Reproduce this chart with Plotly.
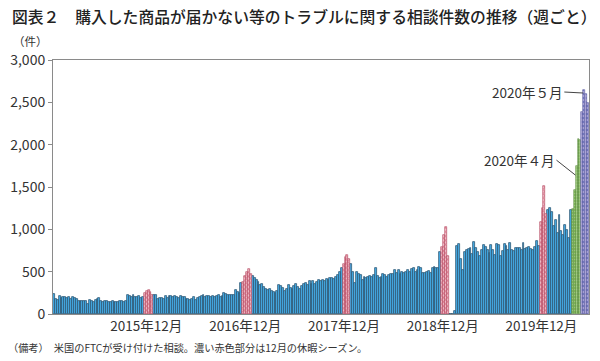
import pandas as pd
import plotly.graph_objects as go

# ---- data (weekly counts) ----
v2015 = [235, 175, 170, 210, 190, 205, 200, 185,
         195, 180, 205, 190, 180, 155, 150, 155,
         150, 150, 120, 160, 155, 140, 165, 175,
         185, 150, 140, 155, 150, 145, 140, 150,
         140, 145, 140, 155, 150, 145, 150, 225,
         210, 200, 220, 205, 195, 215, 190, 200]
dec2015 = [245, 275, 285, 265, 225]
v2016 = [230, 225, 180, 185, 190, 180, 215, 190,
         215, 210, 200, 215, 195, 185, 210, 200,
         195, 180, 175, 170, 180, 200, 170, 190,
         200, 215, 230, 195, 210, 215, 200, 210,
         205, 215, 220, 205, 210, 245, 235, 230,
         220, 230, 225, 285, 260, 250, 365]
dec2016 = [380, 445, 500, 535, 470]
v2017 = [445, 420, 400, 380, 345, 360, 315, 300,
         285, 295, 270, 265, 245, 270, 340, 325,
         310, 270, 300, 340, 310, 290, 330, 350,
         320, 290, 335, 350, 365, 340, 385, 350,
         395, 360, 380, 400, 390, 405, 395, 410,
         400, 420, 425, 410, 440, 460, 500, 540]
dec2017 = [590, 675, 700, 655]
v2018 = [595, 500, 365, 495, 475, 460, 400, 440,
         430, 440, 445, 440, 460, 540, 450, 420,
         440, 470, 455, 440, 460, 470, 475, 520,
         480, 515, 470, 500, 480, 500, 520, 495,
         535, 545, 500, 520, 555, 540, 480, 490,
         500, 510, 490, 545, 560, 540, 545, 735]
dec2018 = [790, 930, 1030, 690]
v2019 = [0, 0, 0, 30, 800, 825, 645, 520,
         735, 755, 765, 775, 710, 850, 775, 735,
         680, 760, 815, 795, 760, 715, 815, 760,
         695, 825, 820, 680, 740, 825, 800, 760,
         840, 760, 740, 775, 785, 775, 760, 840,
         770, 775, 790, 770, 760, 790, 860, 800]
dec2019 = [1090, 1250, 1510, 1180]
v2020 = [1225, 1250, 1200, 1040, 1110, 955, 1175, 975, 935, 1050, 990, 900, 1230]
apr2020 = [1240, 1470, 1750, 2070, 2050]
may2020 = [2380, 2650, 2600, 2490]

values = (v2015 + dec2015 + v2016 + dec2016 + v2017 + dec2017 + v2018 + dec2018
          + v2019 + dec2019 + v2020 + apr2020 + may2020)
dates = pd.date_range("2015-01-01", periods=len(values), freq="7D")

tick_dates = ["2015-12-08", "2016-12-08", "2017-12-08", "2018-12-08", "2019-12-08"]
tick_text = ["2015年12月", "2016年12月", "2017年12月", "2018年12月", "2019年12月"]

df = pd.DataFrame({"date": dates, "value": values})


def category(d):
    if d.year == 2020 and d.month == 4:
        return "apr"
    if d.year == 2020 and d.month == 5:
        return "may"
    if d.month == 12:
        return "dec"
    return "normal"


df["cat"] = df["date"].apply(category)

FONT = "Noto Sans CJK JP"
WEEK_MS = 7 * 24 * 3600 * 1000

styles = {
    "normal": dict(color="#45ace6", line=dict(color="#2c5470", width=0.75)),
    "dec": dict(color="#f2c4ce", line=dict(color="#b03e58", width=0.6),
                pattern=dict(shape="x", fgcolor="#c93a58", bgcolor="#f5cdd6", size=3, solidity=0.55)),
    "apr": dict(color="#8cc266", line=dict(color="#5a8a40", width=0.6),
                pattern=dict(shape="+", fgcolor="#e6f2da", bgcolor="#82bb58", size=3, solidity=0.35)),
    "may": dict(color="#b4aedd", line=dict(color="#55559a", width=0.6),
                pattern=dict(shape=".", fgcolor="#3645a6", bgcolor="#b6b0df", size=4, solidity=0.35)),
}

fig = go.Figure()
for cat in ["normal", "dec", "apr", "may"]:
    sub = df[df["cat"] == cat]
    fig.add_trace(go.Bar(x=sub["date"], y=sub["value"], width=WEEK_MS,
                         marker=styles[cat], showlegend=False, hoverinfo="x+y"))

axis_line = "#8a8a8a"
fig.update_layout(
    width=600, height=361,
    margin=dict(l=52, r=10, t=60, b=47),
    paper_bgcolor="white", plot_bgcolor="white",
    barmode="overlay", bargap=0,
    font=dict(family=FONT, color="#333333", size=14),
    title=dict(text="図表２　購入した商品が届かない等のトラブルに関する相談件数の推移（週ごと）",
               x=12 / 600, xanchor="left", xref="container",
               y=1 - 17 / 361, yanchor="middle", yref="container",
               font=dict(family=FONT, size=15.8, color="#222222", weight=500)),
    xaxis=dict(type="date", range=["2014-12-28 12:00", "2020-06-01"],
               tickvals=tick_dates, ticktext=tick_text, ticks="",
               showline=True, mirror=True, linecolor=axis_line, linewidth=1,
               showgrid=False, zeroline=False, tickfont=dict(size=13.5)),
    yaxis=dict(range=[0, 3000], dtick=500, tickformat=",", ticks="outside", ticklen=4,
               tickcolor=axis_line, showline=True, mirror=True, linecolor=axis_line,
               linewidth=1, showgrid=False, zeroline=False, tickfont=dict(size=14)),
)

fig.add_annotation(text="（件）", xref="paper", yref="paper", x=(29 - 52) / 538, y=(314 - 41) / 254,
                   showarrow=False, font=dict(size=11.5), xanchor="center", yanchor="middle")
fig.add_annotation(text="（備考）　米国のFTCが受け付けた相談。濃い赤色部分は12月の休暇シーズン。",
                   xref="paper", yref="paper", x=(5 - 52) / 538, y=(314 - 347) / 254,
                   showarrow=False, font=dict(size=10.2), xanchor="left", yanchor="middle")
fig.add_annotation(text="2020年５月", x="2020-05-11", y=2610, ax=-19, ay=-1,
                   showarrow=True, arrowhead=0, arrowwidth=1, arrowcolor="#444444",
                   xanchor="right", yanchor="middle", font=dict(size=13.5))
fig.add_annotation(text="2020年４月", x="2020-04-12", y=1640, ax=-19, ay=-15,
                   showarrow=True, arrowhead=0, arrowwidth=1, arrowcolor="#444444",
                   xanchor="right", yanchor="middle", font=dict(size=13.5))

fig.write_html("out.html")
